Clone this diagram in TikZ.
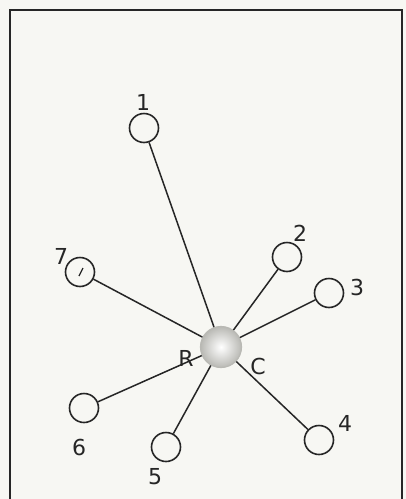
\documentclass[tikz,border=0pt]{standalone}
\usepackage{fontspec}
\setsansfont{DejaVu Sans}
\usepackage{tikz}
\usetikzlibrary{positioning}
\definecolor{paperWhite}{RGB}{247, 247, 243}
\definecolor{inkDark}{RGB}{38, 38, 38}
\definecolor{hubGray}{RGB}{185, 185, 180}

\tikzset{
    leaf/.style={circle, draw=inkDark, line width=1.6pt, minimum size=29pt, inner sep=0pt},
    hub/.style={circle, draw=hubGray, line width=1.2pt, minimum size=41pt, inner sep=0pt,
        inner color=white, outer color=hubGray},
    tag/.style={font=\sffamily\fontsize{22pt}{24pt}\selectfont, text=inkDark, inner sep=0pt},
    spoke/.style={draw=inkDark, line width=1.5pt}
}

\begin{document}
\begin{tikzpicture}[x=1pt, y=-1pt]
    \useasboundingbox[fill=paperWhite] (0,0) rectangle (406,499);
    % frame (runs off the bottom)
    \draw[inkDark, line width=1.6pt] (10,499) |- (402,10) -- (402,499);

    % hub
    \node[hub] (rc) at (221,347) {};
    \node[tag] (rlab) at (186,358) {R};
    \node[tag] (clab) at (258,366) {C};

    % outer stations
    \node[leaf] (n1) at (144,128) {};
    \node[leaf] (n2) at (287,257) {};
    \node[leaf] (n3) at (329,293) {};
    \node[leaf] (n4) at (319,440) {};
    \node[leaf] (n5) at (166,447) {};
    \node[leaf] (n6) at (84,408) {};
    \node[leaf] (n7) at (80,272) {};
    \draw[inkDark, line width=1.3pt] ([shift={(-1,4)}]n7.center) -- ([shift={(3,-4)}]n7.center);

    % numbers
    \node[tag] (t1) at (143,102) {1};
    \node[tag] (t2) at (300,233) {2};
    \node[tag] (t3) at (357,287) {3};
    \node[tag] (t4) at (345,423) {4};
    \node[tag] (t5) at (155,477) {5};
    \node[tag] (t6) at (79,447) {6};
    \node[tag] (t7) at (61,256) {7};

    % spokes
    \foreach \n in {n1,n2,n3,n4,n5,n6,n7}
        \draw[spoke] (\n) -- (rc);
\end{tikzpicture}
\end{document}
